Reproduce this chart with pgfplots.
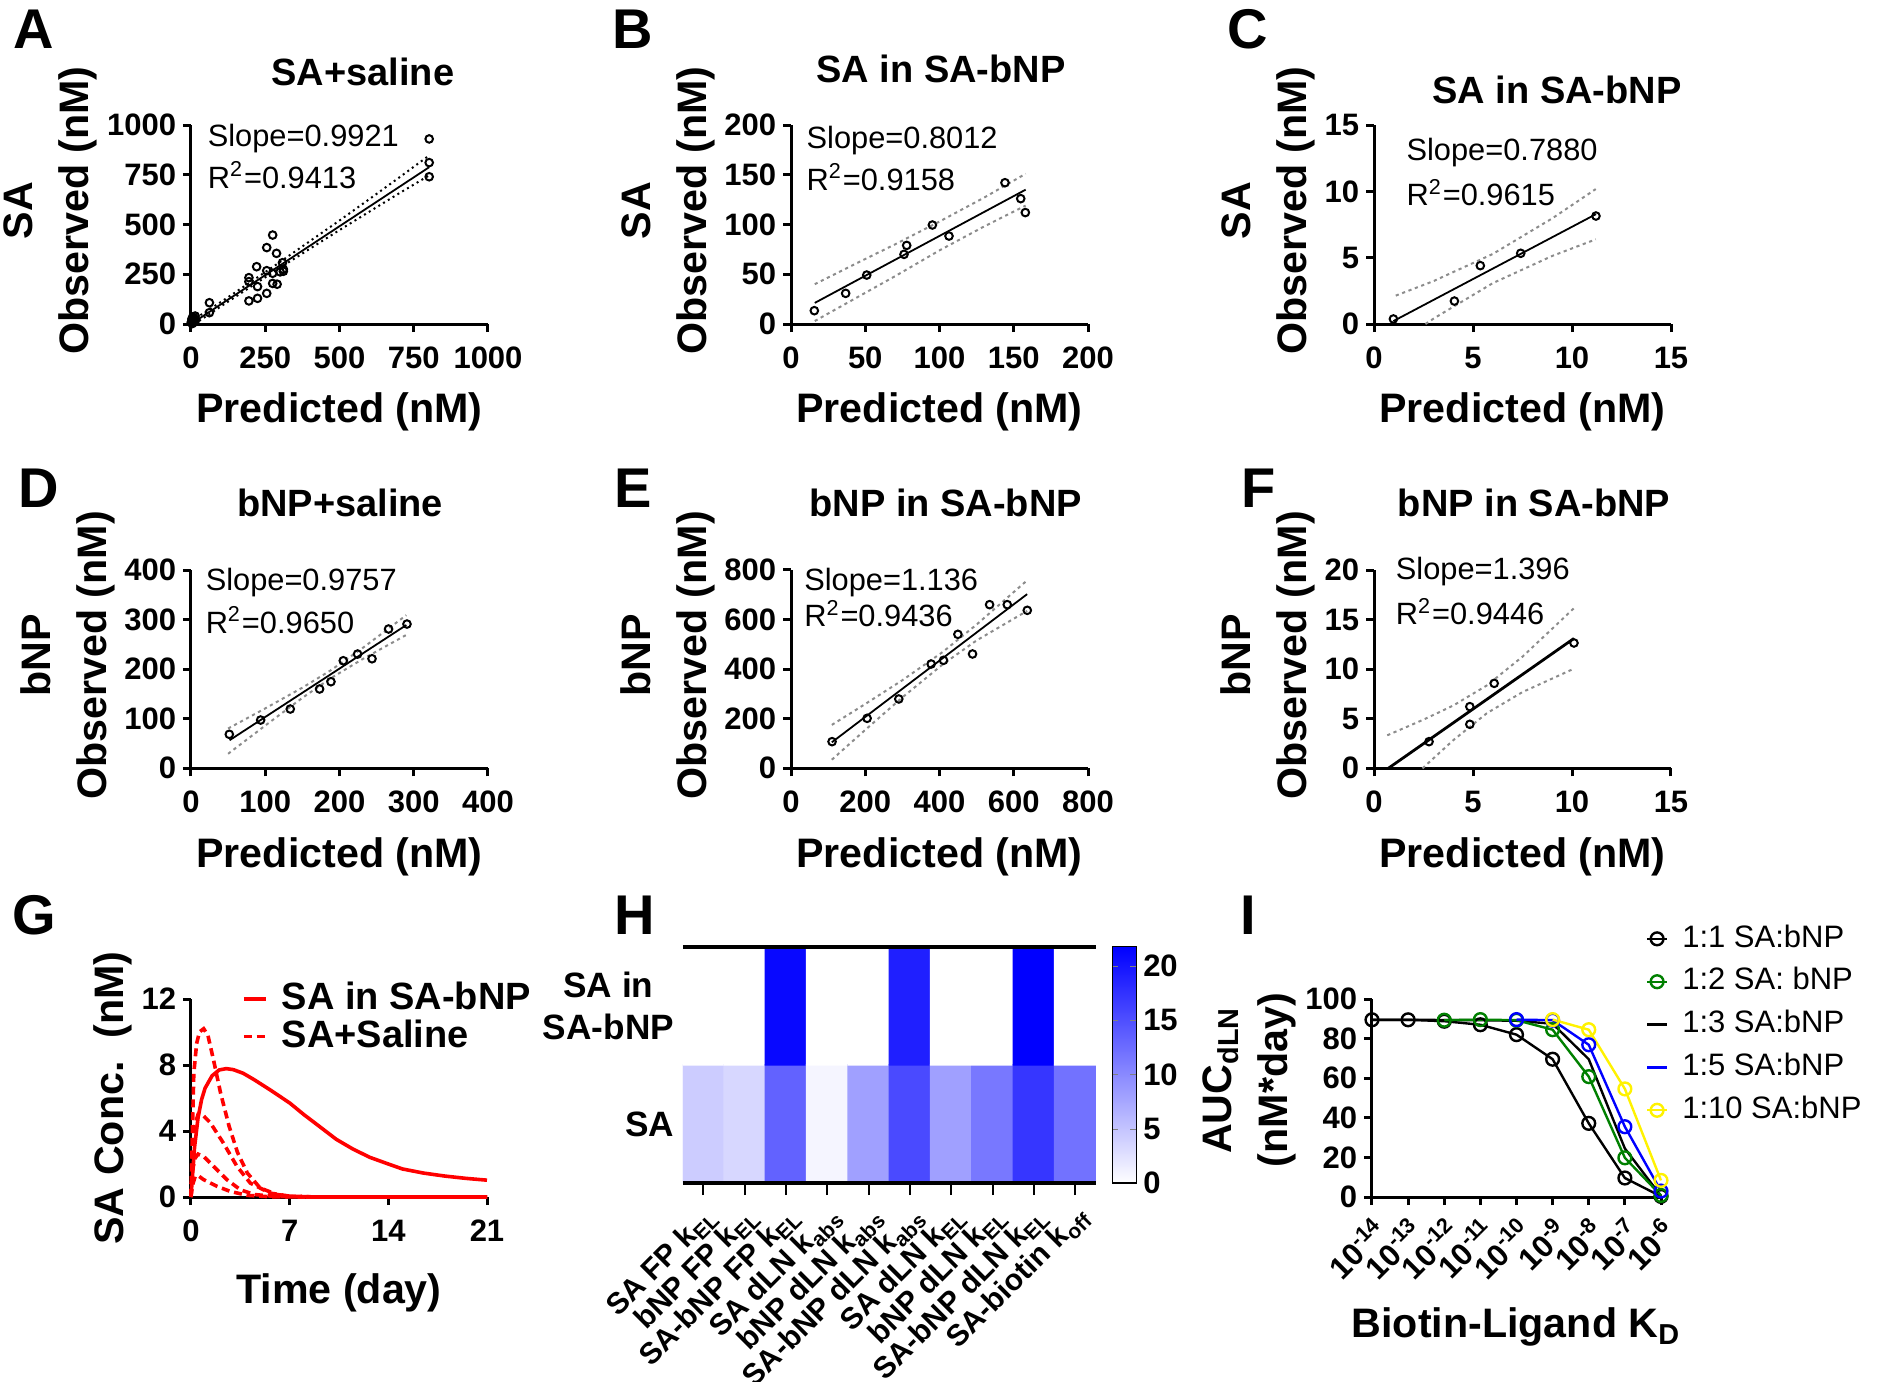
\documentclass[border=0pt]{standalone}
\usepackage{fontspec}
\setmainfont{Liberation Sans}
\usepackage{pgfplots}
\pgfplotsset{compat=1.18}
\newcommand{\tickfont}{\fontsize{7.75}{9}\selectfont\bfseries}
\newcommand{\labfont}{\fontsize{10.3}{14}\selectfont\bfseries}
\newcommand{\titfont}{\fontsize{9.5}{11}\selectfont\bfseries}
\newcommand{\txtfont}{\fontsize{7.7}{9}\selectfont}
\newcommand{\letfont}{\fontsize{14}{16}\selectfont\bfseries}
\newcommand{\rowfont}{\fontsize{8.8}{10.5}\selectfont\bfseries}
\newcommand{\hfont}{\fontsize{7.5}{9}\selectfont\bfseries}
\newcommand{\legfont}{\fontsize{9.5}{11}\selectfont\bfseries}
\newcommand{\ilegfont}{\fontsize{7.75}{9}\selectfont}
\tikzset{slope/.style={anchor=base west, font=\txtfont, inner sep=0pt}}
\pgfplotsset{
  sc/.style={
    scale only axis, width=74.25pt, height=49.75pt,
    axis x line*=bottom, axis y line*=left,
    tick align=outside, major tick length=2pt,
    axis line style={line width=0.75pt},
    tick style={line width=0.75pt, black},
    ticklabel style={font=\tickfont, inner sep=1.5pt},
    xticklabel shift=2pt,
    /pgf/number format/assume math mode=true,
    /pgf/number format/1000 sep={},
    label style={font=\labfont},
    ylabel style={align=center, at={(ticklabel cs:0.57)}, inner sep=0.75pt},
    xlabel style={yshift=-1pt},
    enlargelimits=false, clip=false,
    every axis title shift=0pt,
    title style={font=\titfont, anchor=base},
  },
  pts/.style={only marks, mark=o, mark size=0.95pt, black, mark options={line width=0.5pt}},
  fitl/.style={black, line width=0.45pt, no marks},
  bandA/.style={black, line width=0.5pt, dash pattern=on 0.5pt off 0.9pt, no marks},
  band/.style={black!45, line width=0.5pt, dash pattern=on 0.8pt off 0.9pt, no marks},
}
\begin{document}
\begin{tikzpicture}
\path[use as bounding box] (0,0) rectangle (469.5pt,-345.5pt);
% panel letters
\node[anchor=base west,font=\letfont,inner sep=0] at (3.25pt,-12pt) {A};
\node[anchor=base west,font=\letfont,inner sep=0] at (153pt,-12pt) {B};
\node[anchor=base west,font=\letfont,inner sep=0] at (306.75pt,-12pt) {C};
\node[anchor=base west,font=\letfont,inner sep=0] at (4.5pt,-126.75pt) {D};
\node[anchor=base west,font=\letfont,inner sep=0] at (153.5pt,-126.75pt) {E};
\node[anchor=base west,font=\letfont,inner sep=0] at (310.25pt,-126.75pt) {F};
\node[anchor=base west,font=\letfont,inner sep=0] at (3pt,-233.5pt) {G};
\node[anchor=base west,font=\letfont,inner sep=0] at (153.5pt,-233.5pt) {H};
\node[anchor=base west,font=\letfont,inner sep=0] at (310pt,-233.5pt) {I};

% ---------- A ----------
\begin{axis}[sc, at={(47.75pt,-81pt)}, anchor=south west,
  xmin=0,xmax=1000,ymin=0,ymax=1000,
  xtick={0,250,500,750,1000}, ytick={0,250,500,750,1000},
  xlabel={Predicted (nM)}, ylabel={SA\\Observed (nM)},
  title={SA+saline}, title style={at={(0.579,1.20)}}]
\addplot[bandA] coordinates {(0,14) (100,110) (200,210) (300,312) (400,416) (500,520) (600,627) (700,735) (800,845)};
\addplot[bandA] coordinates {(12,0) (100,88) (200,186) (300,283) (400,378) (500,472) (600,564) (700,656) (800,745)};
\addplot[fitl] coordinates {(0,0) (802,788)};
\addplot[pts] coordinates {(802,930) (802,811) (802,740) (275,447) (255,384) (288,355) (221,288) (195,233) (195,213) (224,188) (255,268) (275,255) (300,262) (311,275) (311,265) (308,308) (275,204) (290,200) (255,154) (224,129) (195,116) (62,107) (62,57) (5,5) (8,15) (3,25) (10,30) (12,10) (2,12) (15,20) (6,35) (4,2) (14,40) (9,22) (1,8)};
\node[slope] at (rel axis cs:0.054,0.891) {Slope=0.9921};
\node[slope] at (rel axis cs:0.054,0.683) {R\textsuperscript{2}=0.9413};
\end{axis}

% ---------- B ----------
\begin{axis}[sc, at={(197.75pt,-81pt)}, anchor=south west,
  xmin=0,xmax=200,ymin=0,ymax=200,
  xtick={0,50,100,150,200}, ytick={0,50,100,150,200},
  xlabel={Predicted (nM)}, ylabel={SA\\Observed (nM)},
  title={SA in SA-bNP}, title style={at={(0.505,1.216)}}]
\addplot[band] coordinates {(16,40) (40,58) (70,80) (100,103) (130,127) (158,151)};
\addplot[band] coordinates {(16,3) (40,23) (70,48) (100,74) (130,98) (158,119)};
\addplot[fitl] coordinates {(16,21.2) (158,135)};
\addplot[pts] coordinates {(15.7,13.4) (36.8,30.8) (51,49.2) (76.1,70) (77.9,79) (95.2,99.5) (106.4,88.4) (144.1,142) (154.7,126) (157.8,112)};
\node[slope] at (rel axis cs:0.05,0.883) {Slope=0.8012};
\node[slope] at (rel axis cs:0.05,0.673) {R\textsuperscript{2}=0.9158};
\end{axis}

% ---------- C ----------
\begin{axis}[sc, at={(343.5pt,-81pt)}, anchor=south west,
  xmin=0,xmax=15,ymin=0,ymax=15,
  xtick={0,5,10,15}, ytick={0,5,10,15},
  xlabel={Predicted (nM)}, ylabel={SA\\Observed (nM)},
  title={SA in SA-bNP}, title style={at={(0.616,1.11)}}]
\addplot[band] coordinates {(1.1,2.14) (3,3.23) (6,5.28) (9,7.96) (11.2,10.17)};
\addplot[band] coordinates {(2.6,0) (3,0.40) (6,3.08) (9,5.13) (11.2,6.38)};
\addplot[fitl] coordinates {(0.98,0.22) (11.21,8.28)};
\addplot[pts] coordinates {(0.98,0.38) (4.06,1.73) (5.37,4.40) (7.41,5.33) (11.21,8.14)};
\node[slope] at (rel axis cs:0.107,0.824) {Slope=0.7880};
\node[slope] at (rel axis cs:0.107,0.593) {R\textsuperscript{2}=0.9615};
\end{axis}

% ---------- D ----------
\begin{axis}[sc, at={(47.75pt,-192.08pt)}, anchor=south west, height=49.58pt,
  xmin=0,xmax=400,ymin=0,ymax=400,
  xtick={0,100,200,300,400}, ytick={0,100,200,300,400},
  xlabel={Predicted (nM)}, ylabel={bNP\\Observed (nM)},
  title={bNP+saline}, title style={at={(0.502,1.27)}}]
\addplot[band] coordinates {(50,80.3) (100,120.9) (150,162.7) (187,196.5) (230,241.4) (290,308.9)};
\addplot[band] coordinates {(50,29.3) (100,86.3) (150,142.1) (187,180.5) (230,219.4) (290,269.1)};
\addplot[fitl] coordinates {(52,56.7) (290,289)};
\addplot[pts] coordinates {(51.6,68.6) (93.8,97.4) (133.7,119.6) (173.2,160) (188.5,174.7) (205.1,217) (224.4,230.5) (243.8,221) (266.1,281) (290.9,291)};
\node[slope] at (rel axis cs:0.047,0.899) {Slope=0.9757};
\node[slope] at (rel axis cs:0.047,0.681) {R\textsuperscript{2}=0.9650};
\end{axis}

% ---------- E ----------
\begin{axis}[sc, at={(197.75pt,-192.08pt)}, anchor=south west, height=49.58pt,
  xmin=0,xmax=800,ymin=0,ymax=800,
  xtick={0,200,400,600,800}, ytick={0,200,400,600,800},
  xlabel={Predicted (nM)}, ylabel={bNP\\Observed (nM)},
  title={bNP in SA-bNP}, title style={at={(0.521,1.27)}}]
\addplot[band] coordinates {(110,175.2) (200,259.4) (300,355.4) (409,469.6) (500,580) (636,758.2)};
\addplot[band] coordinates {(110,34.8) (200,155.0) (300,286.2) (409,419.6) (500,516) (636,635)};
\addplot[fitl] coordinates {(110,105) (636,702.5)};
\addplot[pts] coordinates {(110.6,107.6) (205,201.7) (290.3,279.7) (377.5,420.8) (410.8,435.6) (449.5,540.5) (489,461.2) (534.9,660.2) (582.5,660.2) (636.4,637.3)};
\node[slope] at (rel axis cs:0.042,0.899) {Slope=1.136};
\node[slope] at (rel axis cs:0.042,0.714) {R\textsuperscript{2}=0.9436};
\end{axis}

% ---------- F ----------
\begin{axis}[sc, at={(343.5pt,-192.08pt)}, anchor=south west, height=49.58pt,
  xmin=0,xmax=15,ymin=0,ymax=20,
  xtick={0,5,10,15}, ytick={0,5,10,15,20},
  xlabel={Predicted (nM)}, ylabel={bNP\\Observed (nM)},
  title={bNP in SA-bNP}, title style={at={(0.539,1.27)}}]
\addplot[band] coordinates {(0.67,3.33) (2.5,4.91) (4,6.33) (5.7,8.36) (7.5,11.26) (10.1,16.15)};
\addplot[band] coordinates {(2.45,0) (4,2.83) (5.7,5.56) (7.5,7.69) (10.1,10.05)};
\addplot[black, line width=0.7pt, no marks] coordinates {(0.72,0) (10.1,13.1)};
\addplot[pts] coordinates {(2.78,2.69) (4.84,6.22) (4.84,4.44) (6.07,8.57) (10.10,12.64)};
\node[slope] at (rel axis cs:0.071,0.95) {Slope=1.396};
\node[slope] at (rel axis cs:0.071,0.723) {R\textsuperscript{2}=0.9446};
\end{axis}

% ---------- G ----------
\begin{axis}[sc, at={(47.75pt,-299.25pt)}, anchor=south west, width=74pt, height=49.5pt,
  xmin=0,xmax=21,ymin=0,ymax=12,
  xtick={0,7,14,21}, ytick={0,4,8,12},
  xlabel={Time (day)}, ylabel={SA Conc.\ \ (nM)},
  ylabel style={at={(ticklabel cs:0.5)}},
  xlabel style={yshift=-2pt},
  legend style={at={(0.17,1.11)}, anchor=north west, draw=none, fill=none, font=\legfont, row sep=-1pt, inner sep=0pt, nodes={inner sep=1pt},
    /tikz/every odd column/.append style={column sep=2.5pt}},
  legend cell align=left,
  legend image code/.code={\draw[#1] (0pt,0pt) -- (5.5pt,0pt);}]
\addplot[red, line width=0.9pt, no marks] coordinates {(0,0) (0.25,3.0) (0.5,4.8) (0.75,5.9) (1,6.6) (1.5,7.35) (2,7.7) (2.5,7.78) (3,7.72) (3.7,7.5) (4.5,7.1) (5.6,6.5) (7,5.7) (8,5.0) (9,4.35) (10.3,3.5) (11.5,2.9) (12.7,2.4) (14,2.0) (15,1.7) (16.5,1.45) (18,1.27) (19.5,1.13) (21,1.02)};
\addlegendentry{SA in SA-bNP}
\addplot[red, line width=0.9pt, no marks, dash pattern=on 2pt off 1.2pt] coordinates {(0,0) (0.1,4) (0.2,7.5) (0.4,9.3) (0.6,10.0) (0.9,10.2) (1.2,9.8) (1.6,8.3) (2.1,6.3) (2.7,4.3) (3.3,2.7) (4.0,1.45) (4.9,0.55) (6.1,0.15) (7,0.05) (9,0) (21,0)};
\addlegendentry{SA+Saline}
\addplot[red, line width=0.9pt, no marks, dash pattern=on 2pt off 1.2pt, forget plot] coordinates {(0,0) (0.1,2.5) (0.25,4.3) (0.5,5.0) (0.8,5.0) (1.37,4.5) (2.3,3.27) (3.26,1.86) (4.2,0.85) (5.6,0.24) (7,0.05) (9,0) (21,0)};
\addplot[red, line width=0.9pt, no marks, dash pattern=on 2pt off 1.2pt, forget plot] coordinates {(0,0) (0.1,1.5) (0.25,2.3) (0.5,2.6) (0.9,2.46) (1.6,1.86) (2.55,1.05) (3.5,0.44) (4.5,0.15) (6,0.03) (8,0) (21,0)};
\addplot[red, line width=0.9pt, no marks, dash pattern=on 2pt off 1.2pt, forget plot] coordinates {(0,0) (0.1,0.7) (0.3,1.25) (0.5,1.3) (0.9,1.05) (1.84,0.65) (2.78,0.34) (4,0.1) (5.5,0.02) (8,0) (21,0)};
\end{axis}

% ---------- H ----------
\begin{axis}[scale only axis, width=103.3pt, height=59.15pt, at={(170.7pt,-295.8pt)}, anchor=south west,
  xmin=0.5,xmax=10.5,ymin=0.5,ymax=2.5, enlargelimits=false, axis on top,
  separate axis lines, x axis line style={line width=1pt, black}, y axis line style={draw=none},
  xtick={1,...,10}, ytick={1,2}, xtick pos=bottom, ytick pos=left, tick align=outside,
  xtick style={black, line width=0.5pt}, ytick style={draw=none}, major tick length=3pt,
  xticklabels={{SA FP k\textsubscript{EL}},{bNP FP k\textsubscript{EL}},{SA-bNP FP k\textsubscript{EL}},{SA dLN k\textsubscript{abs}},{bNP dLN k\textsubscript{abs}},{SA-bNP dLN k\textsubscript{abs}},{SA dLN k\textsubscript{EL}},{bNP dLN k\textsubscript{EL}},{SA-bNP dLN k\textsubscript{EL}},{SA-biotin k\textsubscript{off}}},
  xticklabel style={rotate=45, anchor=north east, font=\hfont, inner sep=1pt},
  yticklabels={SA,{SA in\\SA-bNP}}, yticklabel style={align=center, font=\rowfont, inner sep=0pt, xshift=1pt},
  colormap={wb}{rgb255=(255,255,255) rgb255=(0,0,255)},
  point meta min=0, point meta max=21.8,
  colorbar, colorbar shift/.style={xshift=3pt},
  colorbar style={width=6pt,
    ytick={0,5,10,15,20}, yticklabel style={font=\tickfont, inner sep=1.5pt},
    /pgf/number format/assume math mode=true, axis line style={line width=0.4pt}, major tick length=1.5pt}]
\addplot[matrix plot*, mesh/cols=10, mesh/rows=2, point meta=explicit] coordinates {
(1,1) [4.3] (2,1) [3.4] (3,1) [13.3] (4,1) [0.85] (5,1) [8.1] (6,1) [15.4] (7,1) [8.1] (8,1) [11.5] (9,1) [17.1] (10,1) [12.0]

(1,2) [0] (2,2) [0] (3,2) [21.0] (4,2) [0] (5,2) [0] (6,2) [19.0] (7,2) [0] (8,2) [0] (9,2) [21.8] (10,2) [0]
};
\end{axis}

% ---------- I ----------
\begin{axis}[sc, at={(343pt,-299.25pt)}, anchor=south west, width=72.25pt, height=49.5pt,
  xmode=log, xmin=1e-14, xmax=1e-6, xminorticks=false,
  xtick={1e-14,1e-13,1e-12,1e-11,1e-10,1e-9,1e-8,1e-7,1e-6},
  xticklabels={10\textsuperscript{-14},10\textsuperscript{-13},10\textsuperscript{-12},10\textsuperscript{-11},10\textsuperscript{-10},10\textsuperscript{-9},10\textsuperscript{-8},10\textsuperscript{-7},10\textsuperscript{-6}},
  xticklabel style={rotate=45, anchor=north east}, xticklabel shift=0pt,
  ymin=0,ymax=100, ytick={0,20,40,60,80,100},
  xlabel={Biotin-Ligand K\textsubscript{D}}, ylabel={AUC\textsubscript{dLN}\\(nM*day)},
  xlabel style={yshift=0pt},
  ylabel style={at={(ticklabel cs:0.59)}},
  legend style={at={(0.945,1.40)}, anchor=north west, draw=none, fill=none, font=\ilegfont, row sep=1.6pt, inner sep=0pt, nodes={inner sep=1pt},
    /tikz/every odd column/.append style={column sep=2.5pt}},
  legend cell align=left,
  legend image code/.code={\draw[#1, mark repeat=2, mark phase=2] plot coordinates {(0pt,0pt) (2.5pt,0pt) (5pt,0pt)};}]
\addplot[black, line width=0.6pt, no marks, forget plot] coordinates {(1e-14,89.5) (1e-13,89.5) (1e-12,89.4) (1e-11,89.3) (1e-10,89) (1e-9,87.5) (1e-8,69.6) (1e-7,24.5) (1e-6,0.5)};
\addplot[black, line width=0.6pt, mark=o, mark size=1.6pt, forget plot] coordinates {(1e-14,89.5) (1e-13,89.5) (1e-12,88.8) (1e-11,87.0) (1e-10,82) (1e-9,69.6) (1e-8,37.2) (1e-7,9.6) (1e-6,0.3)};
\addplot[green!50!black, line width=0.6pt, mark=o, mark size=1.6pt, forget plot] coordinates {(1e-12,89.3) (1e-11,89.6) (1e-10,89.3) (1e-9,84.5) (1e-8,60.8) (1e-7,19.8) (1e-6,0.8)};
\addplot[blue, line width=0.6pt, mark=o, mark size=1.6pt, forget plot] coordinates {(1e-10,89.6) (1e-9,89.3) (1e-8,76.9) (1e-7,35.5) (1e-6,3.0)};
\addplot[yellow, line width=0.6pt, mark=o, mark size=1.6pt, forget plot] coordinates {(1e-9,89.6) (1e-8,84.5) (1e-7,54.6) (1e-6,8.4)};
\addlegendimage{black, line width=0.6pt, mark=o, mark size=1.6pt}
\addlegendimage{green!50!black, line width=0.6pt, mark=o, mark size=1.6pt}
\addlegendimage{black, line width=0.6pt, no marks}
\addlegendimage{blue, line width=0.6pt, no marks}
\addlegendimage{yellow, line width=0.6pt, mark=o, mark size=1.6pt}
\legend{1:1 SA:bNP, 1:2 SA: bNP, 1:3 SA:bNP, 1:5 SA:bNP, 1:10 SA:bNP}
\end{axis}
\end{tikzpicture}
\end{document}
